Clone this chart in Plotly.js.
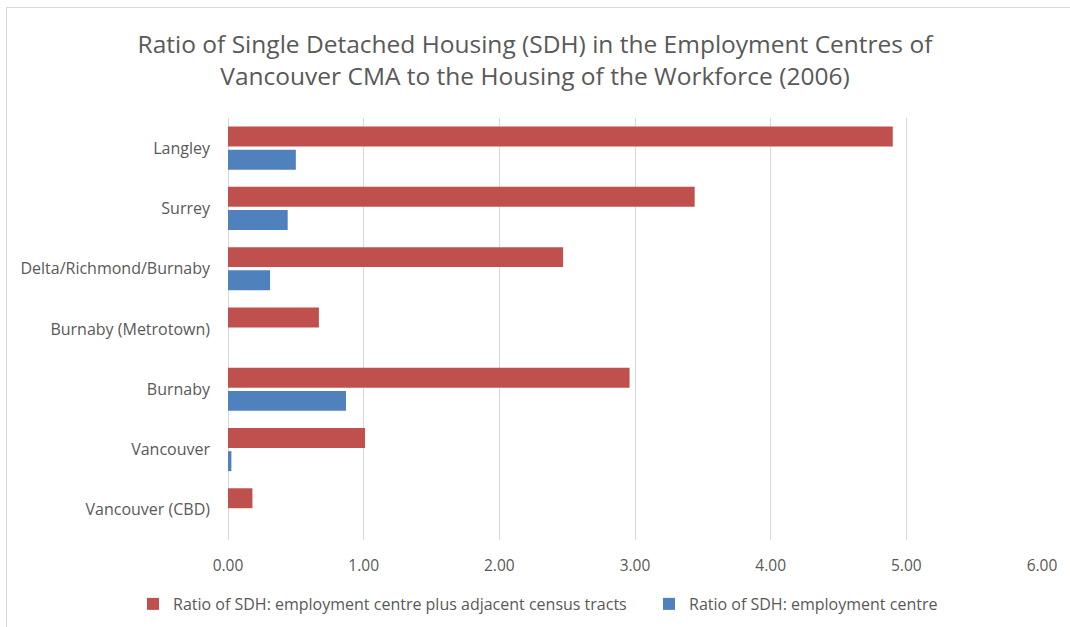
<!DOCTYPE html>
<html>
<head>
<meta charset="utf-8">
<script src="https://cdn.plot.ly/plotly-3.0.1.min.js"></script>
<style>
html,body{margin:0;padding:0;background:#fff;}
#frame{position:absolute;left:6px;top:7px;width:1070px;height:627px;border-left:1px solid #d9d9d9;border-top:1px solid #d9d9d9;}
#chart{position:absolute;left:0;top:0;width:1070px;height:627px;}
</style>
</head>
<body>
<div id="frame"></div>
<div id="chart"></div>
<script>
const categories = ["Langley","Surrey","Delta/Richmond/Burnaby","Burnaby (Metrotown)","Burnaby","Vancouver","Vancouver (CBD)"];
const ratioAdjacent = [4.90, 3.44, 2.47, 0.67, 2.96, 1.01, 0.18];
const ratioCentre = [0.50, 0.44, 0.31, 0, 0.87, 0.025, 0];
const seriesNames = ["Ratio of SDH: employment centre plus adjacent census tracts","Ratio of SDH: employment centre"];
const xTicks = [0,1,2,3,4,5,6];

const traces = [
  {type:'bar', orientation:'h', name:seriesNames[0], y:categories, x:ratioAdjacent, legend:'legend',
   marker:{color:'#c0504d', line:{width:0}}},
  {type:'bar', orientation:'h', name:seriesNames[1], y:categories, x:ratioCentre, legend:'legend2',
   marker:{color:'#4f81bd', line:{width:0}}}
];

const legendBase = {orientation:'h', xanchor:'left', yref:'container', y:0.0367, yanchor:'middle',
  font:{size:16, color:'#595959'}, itemwidth:30, bgcolor:'rgba(0,0,0,0)'};

const layout = {
  width:1070, height:627,
  paper_bgcolor:'rgba(0,0,0,0)', plot_bgcolor:'rgba(0,0,0,0)',
  margin:{l:228, r:28, t:118, b:87, autoexpand:false},
  font:{family:'"Open Sans", "Noto Sans", sans-serif', color:'#595959', size:15},
  title:{text:'Ratio of Single Detached Housing (SDH) in the Employment Centres of<br>Vancouver CMA to the Housing of the Workforce (2006)',
         font:{family:'"Open Sans", sans-serif', size:24.5, color:'#595959'}, x:0.5, xanchor:'center', y:0.9155, yanchor:'middle'},
  barmode:'group', bargap:0.23, bargroupgap:0.14,
  xaxis:{range:[0,6], tickvals:xTicks, tickformat:'.2f', showgrid:true, gridcolor:'#d9d9d9', gridwidth:1,
         zeroline:true, zerolinecolor:'#d9d9d9', showline:false, ticks:'', ticklabelstandoff:14,
         tickfont:{size:15.5, color:'#595959'}, fixedrange:true},
  yaxis:{autorange:'reversed', type:'category', showgrid:false, zeroline:false, showline:false, ticks:'',
         ticklabelstandoff:17, tickfont:{size:16, color:'#595959'}, fixedrange:true},
  legend:Object.assign({}, legendBase, {x:-0.1167}),
  legend2:Object.assign({}, legendBase, {x:0.5172}),
  showlegend:true
};

Plotly.newPlot('chart', traces, layout, {displayModeBar:false, staticPlot:true});
</script>
</body>
</html>
